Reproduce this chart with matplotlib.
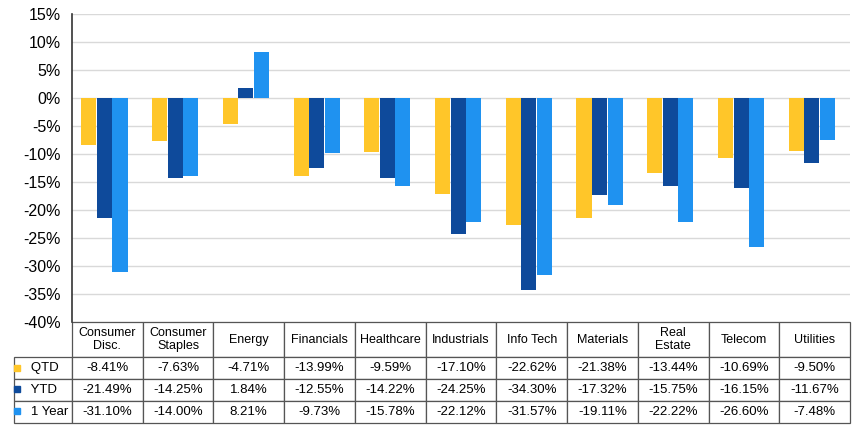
import numpy as np
import matplotlib.pyplot as plt

plt.rcParams['font.family'] = ['Liberation Sans', 'DejaVu Sans']

sectors = ["Consumer\nDisc.", "Consumer\nStaples", "Energy", "Financials", "Healthcare",
           "Industrials", "Info Tech", "Materials", "Real\nEstate", "Telecom", "Utilities"]
qtd = [-8.41, -7.63, -4.71, -13.99, -9.59, -17.10, -22.62, -21.38, -13.44, -10.69, -9.50]
ytd = [-21.49, -14.25, 1.84, -12.55, -14.22, -24.25, -34.30, -17.32, -15.75, -16.15, -11.67]
one_year = [-31.10, -14.00, 8.21, -9.73, -15.78, -22.12, -31.57, -19.11, -22.22, -26.60, -7.48]
series_names = ["QTD", "YTD", "1 Year"]
colors = ["#FFC629", "#0E4A9B", "#1F92F0"]
yticks = list(range(-40, 20, 5))

fig = plt.figure(figsize=(8.56, 4.26), dpi=100)
ax = fig.add_axes([0.084, 0.244, 0.909, 0.723])

x = np.arange(len(sectors))
w = 0.22
for i, (vals, c) in enumerate(zip([qtd, ytd, one_year], colors)):
    ax.bar(x + (i - 1) * w - 0.04, vals, w * 0.97, color=c, zorder=3)

ax.set_xlim(-0.5, len(sectors) - 0.5)
ax.set_ylim(-40, 15)
ax.set_yticks(yticks)
ax.set_yticklabels([f"{t}%" for t in yticks], fontsize=11.5)
ax.set_xticks([])
ax.tick_params(axis='y', length=0, pad=8)
ax.grid(axis='y', color='#d9d9d9', linewidth=1, zorder=0)
for s in ['top', 'right', 'bottom']:
    ax.spines[s].set_visible(False)
ax.spines['left'].set_color('#333333')
ax.spines['left'].set_linewidth(1.2)

# data table under the plot
cell_text = [[f"{v:.2f}%" for v in row] for row in [qtd, ytd, one_year]]
ax_w_px = 0.909 * 856
ax_h_px = 0.723 * 426
tbl = ax.table(cellText=cell_text, rowLabels=["   " + n for n in series_names],
               colLabels=sectors, cellLoc='center', rowLoc='left', loc='bottom')
tbl.auto_set_font_size(False)
tbl.set_fontsize(9.5)
for (r, c), cell in tbl.get_celld().items():
    cell.set_edgecolor('#555555')
    cell.set_linewidth(0.9)
    cell.set_height((35 if r == 0 else 22) / ax_h_px)
    cell.set_width(62 / ax_w_px if c == -1 else 1 / len(sectors))
    if r == 0:
        cell.get_text().set_fontsize(9)

row_y = [-(368 - 322) / ax_h_px, -(389 - 322) / ax_h_px, -(411 - 322) / ax_h_px]
mark_x = (17 - 0.084 * 856) / ax_w_px
for yy, c in zip(row_y, colors):
    ax.plot([mark_x], [yy], marker='s', markersize=5, color=c,
            transform=ax.transAxes, clip_on=False)

fig.savefig("out.png", dpi=100)
